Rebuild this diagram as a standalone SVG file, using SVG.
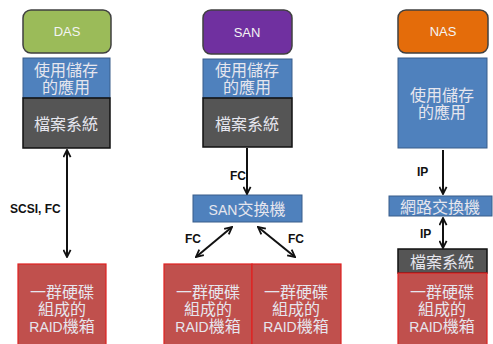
<svg xmlns="http://www.w3.org/2000/svg" width="493" height="344" viewBox="0 0 493 344">
<defs>
<marker id="ah" viewBox="0 0 10 10" refX="9" refY="5" markerWidth="9" markerHeight="9" markerUnits="userSpaceOnUse" orient="auto-start-reverse">
<path d="M1,1 L9,5 L1,9" fill="none" stroke="#111" stroke-width="2"/>
</marker>
<style>
.hd{stroke:#404040;stroke-width:1.5}
.app{fill:#4f81bd;stroke:#385d8a;stroke-width:1}
.fs{fill:#555555;stroke:#111;stroke-width:1.5}
.raid{fill:#c0504d;stroke:#e02020;stroke-width:1.2}
.sw{fill:#4f81bd;stroke:#385d8a;stroke-width:1}
.t{font-family:"Liberation Serif","Noto Sans CJK TC",serif;fill:#e6e6ee;text-anchor:middle;font-size:16px}
.h{font-family:"Liberation Sans","Noto Sans",sans-serif;fill:#f4f4f4;text-anchor:middle;font-size:13px}
.lbl{font-family:"Liberation Sans",sans-serif;font-weight:bold;fill:#111;font-size:12px}
.c{stroke:#111;stroke-width:2;fill:none;marker-end:url(#ah);marker-start:url(#ah)}
.c1{stroke:#111;stroke-width:2;fill:none;marker-end:url(#ah)}
</style>
</defs>
<g id="das-head"><rect class="hd" x="23" y="10" width="88" height="43" rx="8" fill="#9bbb59"/><text class="h" x="67" y="36">DAS</text></g>
<g id="das-app"><rect class="app" x="23" y="58" width="87" height="40"/><text class="t" x="66" y="76">使用儲存</text><text class="t" x="66" y="93">的應用</text></g>
<g id="das-fs"><rect class="fs" x="23" y="98" width="87" height="50"/><text class="t" x="66" y="130">檔案系統</text></g>
<g id="das-raid"><rect class="raid" x="18" y="264" width="88" height="82"/><text class="t" x="62" y="298">一群硬碟</text><text class="t" x="62" y="315">組成的</text><text class="t" x="62" y="332"><tspan font-family="Liberation Sans,sans-serif" font-size="14">RAID</tspan>機箱</text></g>

<g id="san-head"><rect class="hd" x="203" y="10" width="89" height="44" rx="8" fill="#7030a0"/><text class="h" x="247" y="37">SAN</text></g>
<g id="san-app"><rect class="app" x="203" y="59" width="89" height="39"/><text class="t" x="247" y="76">使用儲存</text><text class="t" x="247" y="93">的應用</text></g>
<g id="san-fs"><rect class="fs" x="203" y="98" width="89" height="49"/><text class="t" x="247" y="130">檔案系統</text></g>
<g id="san-switch"><rect class="sw" x="193" y="195" width="109" height="27"/><text class="t" x="247" y="215"><tspan font-family="Liberation Sans,sans-serif" font-size="14">SAN</tspan>交換機</text></g>
<g id="san-raid1"><rect class="raid" x="164" y="264" width="88" height="82"/><text class="t" x="208" y="298">一群硬碟</text><text class="t" x="208" y="315">組成的</text><text class="t" x="208" y="332"><tspan font-family="Liberation Sans,sans-serif" font-size="14">RAID</tspan>機箱</text></g>
<g id="san-raid2"><rect class="raid" x="252" y="264" width="89" height="82"/><text class="t" x="296" y="298">一群硬碟</text><text class="t" x="296" y="315">組成的</text><text class="t" x="296" y="332"><tspan font-family="Liberation Sans,sans-serif" font-size="14">RAID</tspan>機箱</text></g>

<g id="nas-head"><rect class="hd" x="398" y="10" width="90" height="43" rx="8" fill="#e46c0a"/><text class="h" x="443" y="36">NAS</text></g>
<g id="nas-app"><rect class="app" x="398" y="58" width="89" height="90"/><text class="t" x="442" y="101">使用儲存</text><text class="t" x="442" y="118">的應用</text></g>
<g id="nas-switch"><rect class="sw" x="389" y="196" width="103" height="20"/><text class="t" x="440" y="213">網路交換機</text></g>
<g id="nas-fs"><rect class="fs" x="398" y="249" width="89" height="24"/><text class="t" x="442" y="268">檔案系統</text></g>
<g id="nas-raid"><rect class="raid" x="398" y="273" width="89" height="73"/><text class="t" x="442" y="298">一群硬碟</text><text class="t" x="442" y="315">組成的</text><text class="t" x="442" y="332"><tspan font-family="Liberation Sans,sans-serif" font-size="14">RAID</tspan>機箱</text></g>

<g id="connectors">
<line class="c" x1="67" y1="150" x2="67" y2="257"/>
<line class="c1" x1="247" y1="148" x2="247" y2="194"/>
<line class="c" x1="232" y1="227" x2="196" y2="257"/>
<line class="c" x1="258" y1="227" x2="295" y2="257"/>
<line class="c1" x1="443" y1="150" x2="443" y2="194"/>
<line class="c" x1="443" y1="218" x2="443" y2="248"/>
<text class="lbl" x="10" y="213">SCSI, FC</text>
<text class="lbl" x="230" y="180">FC</text>
<text class="lbl" x="185" y="243">FC</text>
<text class="lbl" x="288" y="243">FC</text>
<text class="lbl" x="417" y="176">IP</text>
<text class="lbl" x="420" y="238">IP</text>
</g>
</svg>
